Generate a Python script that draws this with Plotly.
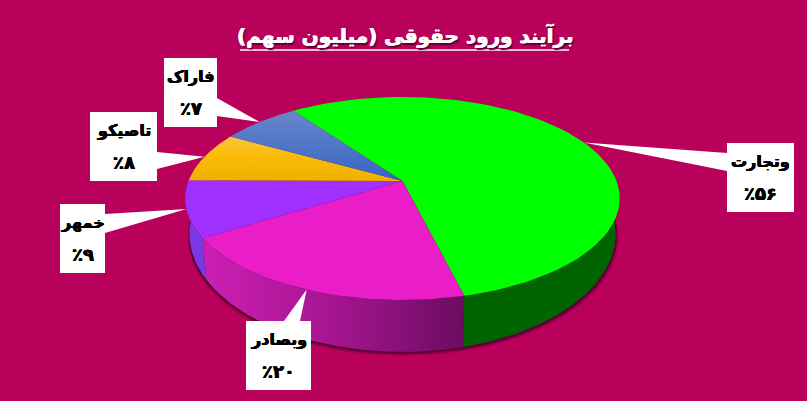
import math
import plotly.graph_objects as go

# ---- data ----
names = ["وتجارت", "وبصادر", "خمهر", "تاصیکو", "فاراک"]
shares = [56, 20, 9, 8, 7]
pct_labels = ["٪۵۶", "٪۲۰", "٪۹", "٪۸", "٪۷"]
title_text = "برآیند ورود حقوقی (میلیون سهم)"

# ---- styling ----
BG = "#B9005A"
FONT = "DejaVu Sans"
top_fill = ["#00FF00", "#EA1EC8", "#A030FF", None, None]
side_fill = ["#006400", None, "#7A38E0"]
THICK_BLACK = "0.4px 0 0 #000, -0.4px 0 0 #000, 0 0.4px 0 #000"
THICK_WHITE = "0.4px 0 0 #FFF, -0.4px 0 0 #FFF, 1.5px 1.5px 1px #5A0030"

# ---- projection of the tilted pie onto the page axes ----
CX, CY = 402.5, 181.0
A, B, K = 214.0, 98.5, 0.172
BASE_DY, BASE_A, BASE_B = 32.0, 210.0, 115.0
START = -35.5


def top(t):
    r = math.radians(t)
    x, y = math.sin(r), math.cos(r)
    w = 1 + K * y
    return CX + A * x / w, CY - B * y / w


def base(t):
    r = math.radians(t)
    x, y = math.sin(r), math.cos(r)
    w = 1 + K * y
    return CX + BASE_A * x / w, CY + BASE_DY - BASE_B * y / w


def arc(fn, a, b, n=80):
    pts = [fn(a + (b - a) * i / n) for i in range(n + 1)]
    return [p[0] for p in pts], [p[1] for p in pts]


edges = [START]
for s in shares:
    edges.append(edges[-1] + s * 3.6)

fig = go.Figure()


def poly(xs, ys, color=None, gradient=None, opacity=1.0):
    kw = dict(x=xs, y=ys, mode="lines", line=dict(width=0), fill="toself",
              hoverinfo="skip", showlegend=False, opacity=opacity)
    if gradient:
        kw["fillgradient"] = gradient
    else:
        kw["fillcolor"] = color
    fig.add_trace(go.Scatter(**kw))


# soft shadow under the base
for off, op in [(5, 0.10), (4, 0.15), (3, 0.25), (2, 0.45)]:
    bx, by = arc(base, 70, 290, 160)
    poly([x + off * (0.6 if x > CX else -0.3) for x in bx],
         [y + off * 0.8 for y in by], "#300020", opacity=op)

# outer wall
vis_start, vis_end = 88.0, 272.0
wall = [(vis_start, edges[1], dict(color=side_fill[0])),
        (edges[1], edges[2], dict(gradient=dict(
            type="horizontal",
            colorscale=[[0, "#CC1FB4"], [0.5, "#A51590"], [1, "#6B0C60"]]))),
        (edges[2], vis_end, dict(color=side_fill[2]))]
for a, b, style in wall:
    tx, ty = arc(top, a, b)
    bx, by = arc(base, a, b)
    poly(tx + bx[::-1], ty + by[::-1], **style)

# top faces
top_styles = [
    dict(color=top_fill[0]),
    dict(color=top_fill[1]),
    dict(color=top_fill[2]),
    dict(gradient=dict(type="vertical", colorscale=[[0, "#EFB000"], [0.6, "#FBBD08"], [1, "#F5C448"]])),
    dict(gradient=dict(type="vertical", colorscale=[[0, "#3565C4"], [1, "#6A86C8"]])),
]
for i, style in enumerate(top_styles):
    ax, ay = arc(top, edges[i], edges[i + 1])
    poly([CX] + ax + [CX], [CY] + ay + [CY], **style)

# label boxes: left, right, top, bottom, and where the leader leaves the box
boxes = [
    (727, 794, 143, 212, ("v", 727, 153, 171)),
    (246, 311, 321, 390, ("h", 321, 284, 300)),
    (60, 105, 204, 273, ("v", 105, 214, 233)),
    (90, 157, 112, 181, ("v", 157, 152, 169)),
    (164, 217, 58, 127, ("v", 217, 98, 116)),
]

annotations = []
for i, (l, r, t, b, lead) in enumerate(boxes):
    poly([l, r, r, l, l], [t, t, b, b, t], "#FFFFFF")
    tipx, tipy = top((edges[i] + edges[i + 1]) / 2)
    if lead[0] == "v":
        lx = [lead[1], tipx, lead[1], lead[1]]
        ly = [lead[2], tipy, lead[3], lead[2]]
    else:
        lx = [lead[2], tipx, lead[3], lead[2]]
        ly = [lead[1], tipy, lead[1], lead[1]]
    poly(lx, ly, "#FFFFFF")
    mid = (l + r) / 2
    annotations.append(dict(x=mid, y=t + 18, text=f"<b>{names[i]}</b>", showarrow=False,
                            font=dict(family=FONT, size=16, color="#000000", shadow=THICK_BLACK),
                            xanchor="center", yanchor="middle"))
    annotations.append(dict(x=mid, y=t + 50, text=f"<b>{pct_labels[i]}</b>", showarrow=False,
                            font=dict(family=FONT, size=18, color="#000000", shadow=THICK_BLACK),
                            xanchor="center", yanchor="middle"))

annotations.append(dict(x=405, y=35, text=f"<b>{title_text}</b>", showarrow=False,
                        font=dict(family=FONT, size=20, color="#FFFFFF", shadow=THICK_WHITE),
                        xanchor="center", yanchor="middle"))

fig.update_layout(
    width=807, height=401, margin=dict(l=0, r=0, t=0, b=0),
    paper_bgcolor=BG, plot_bgcolor=BG, showlegend=False,
    annotations=annotations,
    shapes=[dict(type="line", x0=240, x1=569, y0=50, y1=50,
                 line=dict(color="#FFFFFF", width=1.5))],
    xaxis=dict(range=[0, 807], visible=False, fixedrange=True),
    yaxis=dict(range=[401, 0], visible=False, fixedrange=True),
)
fig.write_html("out.html", config=dict(displayModeBar=False),
               default_width="807px", default_height="401px",
               post_script="document.body.style.margin='0';document.body.style.overflow='hidden';"
                           "document.body.style.background='" + BG + "';",
               full_html=True)
